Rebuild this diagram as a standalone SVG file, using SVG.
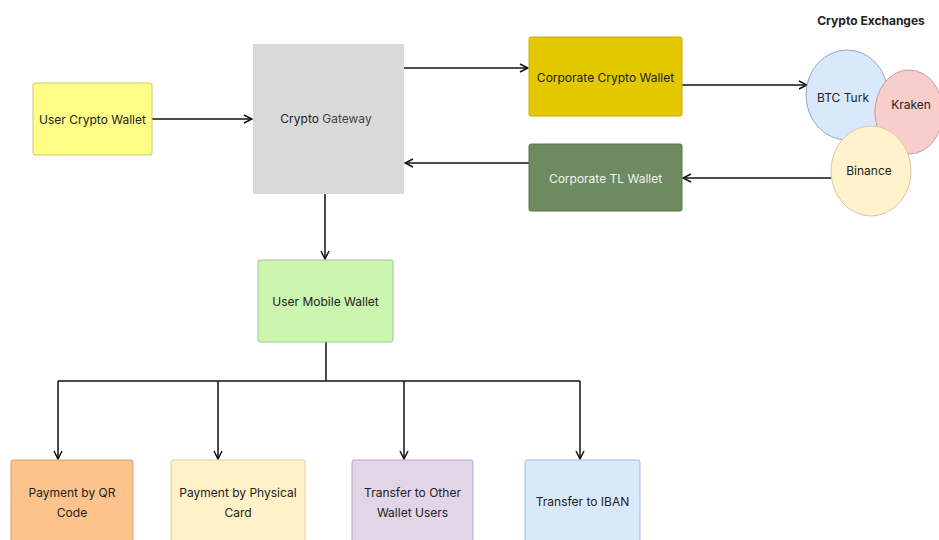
<svg xmlns="http://www.w3.org/2000/svg" width="939" height="540" viewBox="0 0 939 540">
<defs>
<marker id="arr" viewBox="0 0 10 10" refX="9" refY="5" markerWidth="10" markerHeight="10" markerUnits="userSpaceOnUse" orient="auto">
<path d="M1,1 L9,5 L1,9" fill="none" stroke="#111" stroke-width="1.5"/>
</marker>
<style>
.t{font-family:Inter,"Liberation Sans",sans-serif;font-size:12px;fill:#222;text-anchor:middle;dominant-baseline:central}
.b{stroke-width:1;rx:2}
.c{fill:none;stroke:#111;stroke-width:1.5}
</style>
</defs>
<rect width="939" height="540" fill="#fff"/>
<g id="connectors">
<path class="c" d="M152,119 H252" marker-end="url(#arr)"/>
<path class="c" d="M404,68 H528" marker-end="url(#arr)"/>
<path class="c" d="M682,85 H807" marker-end="url(#arr)"/>
<path class="c" d="M832,178 H683" marker-end="url(#arr)"/>
<path class="c" d="M529,163 H405" marker-end="url(#arr)"/>
<path class="c" d="M325,194 V259" marker-end="url(#arr)"/>
<path class="c" d="M326,342 V381 M58,381 H580"/>
<path class="c" d="M58,381 V459" marker-end="url(#arr)"/>
<path class="c" d="M218,381 V459" marker-end="url(#arr)"/>
<path class="c" d="M404,381 V459" marker-end="url(#arr)"/>
<path class="c" d="M580,381 V459" marker-end="url(#arr)"/>
</g>
<g id="user-crypto-wallet">
<rect class="b" x="33" y="83" width="119" height="72" fill="#ffff88" stroke="#c8c870"/>
<text class="t" x="92.5" y="119">User Crypto Wallet</text>
</g>
<g id="crypto-gateway">
<rect x="253" y="44" width="151" height="150" fill="#d9d9d9"/>
<text class="t" x="326" y="118">Crypto <tspan fill="#444">Gateway</tspan></text>
</g>
<g id="corporate-crypto-wallet">
<rect class="b" x="529" y="37" width="153" height="79" fill="#e3c800" stroke="#c9b000"/>
<text class="t" x="605.5" y="77">Corporate Crypto Wallet</text>
</g>
<g id="corporate-tl-wallet">
<rect class="b" x="529" y="144" width="153" height="67" fill="#6d8a60" stroke="#5a7550"/>
<text class="t" x="605.5" y="178" style="fill:#f2f2f2">Corporate TL Wallet</text>
</g>
<g id="crypto-exchanges">
<text class="t" x="871" y="20" style="font-weight:bold">Crypto Exchanges</text>
</g>
<g id="btc-turk">
<ellipse cx="847" cy="95" rx="41" ry="45" fill="#dae8fc" stroke="#8fa7c8"/>
<text class="t" x="843" y="97">BTC Turk</text>
</g>
<g id="kraken">
<ellipse cx="909" cy="112" rx="34" ry="42" fill="#f8cecc" stroke="#c99a98"/>
<text class="t" x="911" y="104">Kraken</text>
</g>
<g id="binance">
<ellipse cx="871" cy="171" rx="40" ry="45" fill="#fff2cc" stroke="#d9c9a0"/>
<text class="t" x="869" y="170">Binance</text>
</g>
<g id="user-mobile-wallet">
<rect class="b" x="258" y="260" width="135" height="82" fill="#ccf5b0" stroke="#9ec58a"/>
<text class="t" x="325.5" y="301">User Mobile Wallet</text>
</g>
<g id="payment-qr">
<rect class="b" x="11" y="460" width="122" height="85" fill="#fcc48c" stroke="#d9a070"/>
<text class="t" x="72" y="492">Payment by QR</text>
<text class="t" x="72" y="512">Code</text>
</g>
<g id="payment-card">
<rect class="b" x="171" y="460" width="134" height="85" fill="#fff1c8" stroke="#dcd0a8"/>
<text class="t" x="238" y="492">Payment by Physical</text>
<text class="t" x="238" y="512">Card</text>
</g>
<g id="transfer-users">
<rect class="b" x="352" y="460" width="121" height="85" fill="#e1d5e7" stroke="#b9abc2"/>
<text class="t" x="412.5" y="492">Transfer to Other</text>
<text class="t" x="412.5" y="512">Wallet Users</text>
</g>
<g id="transfer-iban">
<rect class="b" x="525" y="460" width="115" height="85" fill="#dae8fc" stroke="#a7bcd8"/>
<text class="t" x="582.5" y="501">Transfer to IBAN</text>
</g>
</svg>
